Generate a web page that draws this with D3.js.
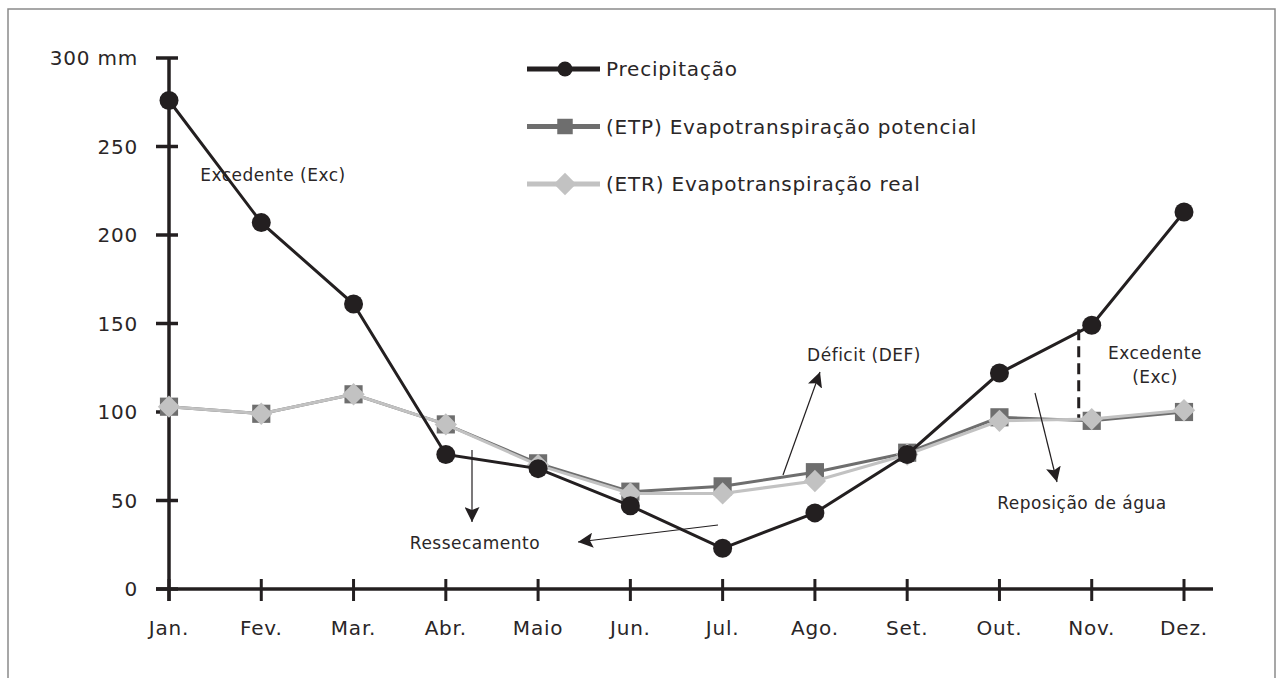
<!DOCTYPE html>
<html>
<head>
<meta charset="UTF-8">
<title>Balanço hídrico</title>
<style>
    body { margin: 0; background: #fff; }
    svg { font-family: 'DejaVu Sans', sans-serif; }
    .lbl { font-size: 20px; letter-spacing: 0.8px; fill: #2a2627; }
    .ann { font-size: 17px; letter-spacing: 0.5px; fill: #2a2627; }
</style>
</head>
<body>
<script src="https://d3js.org/d3.v7.min.js"></script>
<script>
    // data
    var months = ["Jan.", "Fev.", "Mar.", "Abr.", "Maio", "Jun.", "Jul.", "Ago.", "Set.", "Out.", "Nov.", "Dez."];
    var precipitacao = [276, 207, 161, 76, 68, 47, 23, 43, 76, 122, 149, 213];
    var etp = [103, 99, 110, 93, 71, 55, 58, 66, 77, 97, 95, 100];
    var etr = [103, 99, 110, 93, 70, 54, 54, 61, 76, 95, 96, 101];
    var yTicks = [0, 50, 100, 150, 200, 250, 300];

    var W = 1281, H = 678;
    var ink = "#231f20";

    var svg = d3.select("body").append("svg")
        .attr("width", W).attr("height", H);

    // frame
    svg.append("path")
        .attr("d", "M8," + H + " V9 H1275 V" + H)
        .attr("fill", "none").attr("stroke", "#8a8a8a").attr("stroke-width", 1.5);

    var x = d3.scalePoint().domain(months).range([169, 1184]);
    var y = d3.scaleLinear().domain([0, 300]).range([589, 58]);

    // y axis
    var gy = svg.append("g").attr("transform", "translate(169,0)");
    gy.append("line").attr("y1", y(300)).attr("y2", 601)
        .attr("stroke", ink).attr("stroke-width", 3.5);
    gy.selectAll(".yt").data(yTicks).join("line")
        .attr("x1", -13).attr("x2", 9)
        .attr("y1", d => y(d)).attr("y2", d => y(d))
        .attr("stroke", ink).attr("stroke-width", 3.5);
    gy.selectAll(".yl").data(yTicks).join("text")
        .attr("class", "lbl")
        .attr("x", -31).attr("y", d => y(d)).attr("dy", "0.35em")
        .attr("text-anchor", "end")
        .text(d => d === 300 ? "300 mm" : d);

    // x axis
    var gx = svg.append("g").attr("transform", "translate(0," + y(0) + ")");
    gx.append("line").attr("x1", 156).attr("x2", 1213)
        .attr("stroke", ink).attr("stroke-width", 3.5);
    gx.selectAll(".xt").data(months).join("line")
        .attr("x1", d => x(d)).attr("x2", d => x(d))
        .attr("y1", -10).attr("y2", 12)
        .attr("stroke", ink).attr("stroke-width", 3);
    gx.selectAll(".xl").data(months).join("text")
        .attr("class", "lbl")
        .attr("x", d => x(d)).attr("y", 39).attr("dy", "0.35em")
        .attr("text-anchor", "middle")
        .text(d => d);

    var line = d3.line().x((d, i) => x(months[i])).y(d => y(d));
    var sq = d3.symbol().type(d3.symbolSquare).size(330);
    var dm = d3.symbol().type(d3.symbolSquare).size(250);

    // ETP
    svg.append("path").datum(etp).attr("d", line)
        .attr("fill", "none").attr("stroke", "#6e6e6e").attr("stroke-width", 3);
    svg.selectAll(".etp").data(etp).join("path")
        .attr("d", sq)
        .attr("transform", (d, i) => "translate(" + x(months[i]) + "," + y(d) + ")")
        .attr("fill", "#6e6e6e");

    // ETR
    svg.append("path").datum(etr).attr("d", line)
        .attr("fill", "none").attr("stroke", "#c2c2c2").attr("stroke-width", 3);
    svg.selectAll(".etr").data(etr).join("path")
        .attr("d", dm)
        .attr("transform", (d, i) => "translate(" + x(months[i]) + "," + y(d) + ") rotate(45)")
        .attr("fill", "#c2c2c2");

    // precipitação
    svg.append("path").datum(precipitacao).attr("d", line)
        .attr("fill", "none").attr("stroke", ink).attr("stroke-width", 3);
    svg.selectAll(".pr").data(precipitacao).join("circle")
        .attr("cx", (d, i) => x(months[i])).attr("cy", d => y(d)).attr("r", 9.5)
        .attr("fill", ink);

    // legend
    var legend = [
        { name: "Precipitação", color: ink, shape: "c" },
        { name: "(ETP) Evapotranspiração potencial", color: "#6e6e6e", shape: "s" },
        { name: "(ETR) Evapotranspiração real", color: "#c2c2c2", shape: "d" }
    ];
    var lg = svg.selectAll(".lg").data(legend).join("g")
        .attr("transform", (d, i) => "translate(527," + (69 + i * 57.5) + ")");
    lg.append("line").attr("x1", 0).attr("x2", 73)
        .attr("stroke", d => d.color).attr("stroke-width", 5);
    lg.each(function (d) {
        var g = d3.select(this);
        if (d.shape === "c") g.append("circle").attr("cx", 38).attr("r", 7.5).attr("fill", d.color);
        else g.append("path")
            .attr("transform", d.shape === "s" ? "translate(38,0)" : "translate(38,0) rotate(45)")
            .attr("d", d3.symbol().type(d3.symbolSquare).size(d.shape === "s" ? 240 : 250))
            .attr("fill", d.color);
    });
    lg.append("text").attr("class", "lbl")
        .attr("x", 79).attr("dy", "0.35em").text(d => d.name);

    // annotations
    var defs = svg.append("defs");
    defs.append("marker").attr("id", "ah")
        .attr("viewBox", "0 0 10 10").attr("refX", 10).attr("refY", 5)
        .attr("markerWidth", 15).attr("markerHeight", 15)
        .attr("markerUnits", "userSpaceOnUse").attr("orient", "auto")
        .append("path").attr("d", "M0,0 L10,5 L0,10 L2,5 Z").attr("fill", ink);

    function arrow(x1, y1, x2, y2) {
        svg.append("line").attr("x1", x1).attr("y1", y1).attr("x2", x2).attr("y2", y2)
            .attr("stroke", ink).attr("stroke-width", 1.2).attr("marker-end", "url(#ah)");
    }
    function note(tx, ty, s, anchor) {
        svg.append("text").attr("class", "ann").attr("x", tx).attr("y", ty)
            .attr("dy", "0.35em").attr("text-anchor", anchor || "middle").text(s);
    }

    note(273, 175, "Excedente (Exc)");
    note(864, 355, "Déficit (DEF)");
    note(475, 543, "Ressecamento");
    note(1082, 503, "Reposição de água");
    note(1155, 353, "Excedente");
    note(1155, 377, "(Exc)");

    arrow(472, 450, 472, 522);
    arrow(718, 525, 578, 542);
    arrow(783, 475, 820, 372);
    arrow(1035, 393, 1057, 482);

    svg.append("line")
        .attr("x1", x("Nov.") - 13).attr("x2", x("Nov.") - 13)
        .attr("y1", y(precipitacao[10]) + 4).attr("y2", y(etp[10]) - 3)
        .attr("stroke", ink).attr("stroke-width", 3)
        .attr("stroke-dasharray", "11,6");
</script>
</body>
</html>
